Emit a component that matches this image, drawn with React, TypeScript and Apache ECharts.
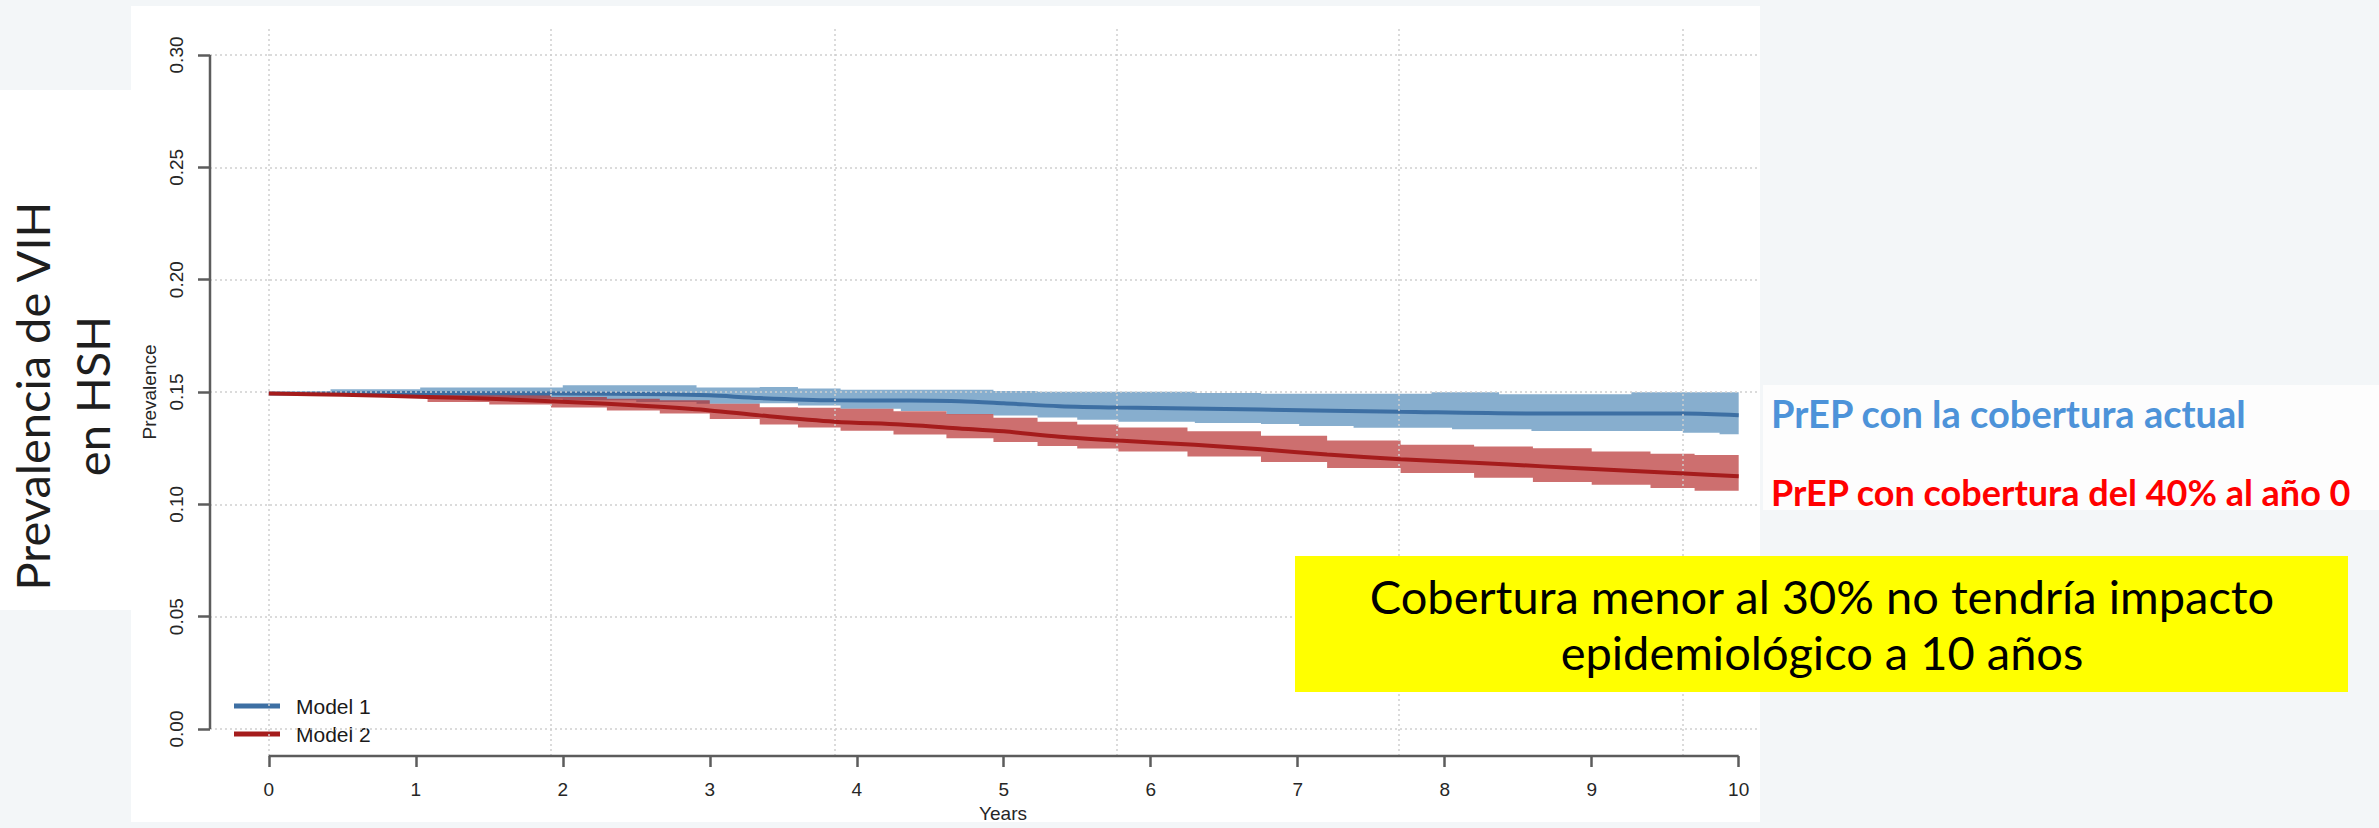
import React, { useEffect, useRef } from "react";
import * as echarts from "echarts";

// ---------------- data ----------------
const xTicks = [0, 1, 2, 3, 4, 5, 6, 7, 8, 9, 10];
const yTicks = [0, 0.05, 0.1, 0.15, 0.2, 0.25, 0.3];
const gridWeeks = [0, 100, 200, 300, 400, 500];
const WEEKS_PER_YEAR = 52;

const seriesNames = ["Model 1", "Model 2"];
const yAxisTitle = "Prevalence";
const xAxisTitle = "Years";
const sideTitle = "Prevalencia de VIH\nen HSH";
const label1 = "PrEP con la cobertura actual";
const label2 = "PrEP con cobertura del 40% al año 0";
const noteText = "Cobertura menor al 30% no tendría impacto\nepidemiológico a 10 años";

// mean prevalence [year, value]
const model1Mean: number[][] = [
  [0, 0.1493], [1, 0.1495], [2, 0.1493], [2.7, 0.149], [3.0, 0.1485], [3.34, 0.1473],
  [3.85, 0.1463], [4.3, 0.1462], [4.7, 0.1459], [5.0, 0.145], [5.38, 0.1437], [5.78, 0.1431],
  [6.75, 0.1422], [7.7, 0.1412], [8.67, 0.1404], [9.63, 0.1404], [10.0, 0.1397],
];
const model2Mean: number[][] = [
  [0, 0.1493], [0.5, 0.1488], [1.08, 0.1478], [1.5, 0.147], [1.92, 0.1459], [2.3, 0.1448],
  [2.66, 0.1434], [3.0, 0.1418], [3.34, 0.1396], [3.85, 0.1368], [4.3, 0.1355], [4.7, 0.1338],
  [5.0, 0.1325], [5.38, 0.1301], [5.78, 0.1284], [6.3, 0.1265], [6.75, 0.1245], [7.2, 0.1222],
  [7.7, 0.1201], [8.2, 0.1185], [8.67, 0.1169], [9.15, 0.1153], [9.63, 0.1137], [10.0, 0.1125],
];
// interval bands [year, low, high] (stepwise)
const model1Band: number[][] = [
  [0, 0.1493, 0.1493], [0.23, 0.149, 0.15], [0.42, 0.1487, 0.1512], [0.75, 0.1482, 0.1512],
  [1.03, 0.1477, 0.152], [1.5, 0.147, 0.152], [2.0, 0.1463, 0.153], [2.5, 0.1455, 0.153],
  [2.91, 0.1448, 0.152], [3.34, 0.145, 0.1522], [3.6, 0.144, 0.1516], [3.89, 0.1426, 0.151],
  [4.3, 0.1415, 0.151], [4.61, 0.1401, 0.151], [4.93, 0.1395, 0.1504], [5.23, 0.1387, 0.1501],
  [5.5, 0.1376, 0.1501], [5.78, 0.1368, 0.1501], [6.3, 0.1362, 0.1496], [6.75, 0.1358, 0.1492],
  [7.01, 0.1349, 0.1492], [7.38, 0.1341, 0.1492], [7.91, 0.1341, 0.1499], [8.05, 0.1334, 0.1499],
  [8.37, 0.1334, 0.149], [8.59, 0.1326, 0.149], [9.27, 0.1326, 0.1499], [9.62, 0.1319, 0.1499],
  [9.87, 0.1312, 0.1499], [10.0, 0.1312, 0.1499],
];
const model2Band: number[][] = [
  [0, 0.1493, 0.1493], [0.3, 0.1488, 0.1496], [0.6, 0.1478, 0.1496], [1.08, 0.1456, 0.1495],
  [1.5, 0.1444, 0.1488], [1.92, 0.1431, 0.1478], [2.3, 0.1418, 0.147], [2.66, 0.1404, 0.1463],
  [3.0, 0.138, 0.1448], [3.34, 0.1355, 0.1432], [3.6, 0.1342, 0.143], [3.89, 0.1328, 0.1426],
  [4.25, 0.1311, 0.1414], [4.61, 0.1294, 0.1402], [4.93, 0.1277, 0.1385], [5.23, 0.126, 0.1368],
  [5.5, 0.1248, 0.1355], [5.78, 0.1235, 0.1342], [6.25, 0.1213, 0.1325], [6.75, 0.1188, 0.1305],
  [7.2, 0.1162, 0.1284], [7.7, 0.114, 0.1265], [8.2, 0.1118, 0.1257], [8.6, 0.11, 0.125],
  [9.0, 0.1087, 0.1235], [9.4, 0.1073, 0.1225], [9.7, 0.106, 0.122], [10.0, 0.1054, 0.1216],
];

// ---------------- styles ----------------
const X_MIN = -0.4;
const X_MAX = 10.145;
const Y_MIN = -0.012;
const Y_MAX = 0.312;
const FONT_R = "'Liberation Sans', Arial, sans-serif";
const FONT_S = "Lato, 'Noto Sans', sans-serif";
const AX = "#5c5c5c";
const TXT = "#262626";
const BG = "#f3f6f8";
const BLUE_LINE = "#3d6fa3";
const RED_LINE = "#a51c1c";
const BLUE_BAND = "rgba(70,130,180,0.65)";
const RED_BAND = "rgba(178,34,34,0.65)";

function bandSeries(name: string, data: number[][], color: string, z: number) {
  return {
    type: "custom",
    name,
    data,
    encode: { x: 0, y: [1, 2] },
    clip: false,
    silent: true,
    z,
    renderItem: (params: any, api: any) => {
      if (params.dataIndexInside !== 0) return null;
      const n = params.dataInsideLength;
      const upper: number[][] = [];
      const lower: number[][] = [];
      for (let j = 0; j < n; j++) {
        const t = api.value(0, j);
        const lo = api.value(1, j);
        const hi = api.value(2, j);
        const tNext = j < n - 1 ? api.value(0, j + 1) : t;
        upper.push(api.coord([t, hi]), api.coord([tNext, hi]));
        lower.push(api.coord([t, lo]), api.coord([tNext, lo]));
      }
      return {
        type: "polygon",
        shape: { points: upper.concat(lower.reverse()) },
        style: { fill: color },
      };
    },
  };
}

export default function App() {
  const ref = useRef<HTMLDivElement>(null);

  useEffect(() => {
    if (!ref.current) return;
    const chart = echarts.init(ref.current, null, { renderer: "svg" });
    const option: any = {
      animation: false,
      grid: { left: 210, top: 28, width: 1550, height: 734 },
      legend: {
        data: seriesNames,
        orient: "vertical",
        left: 229,
        top: 690,
        icon: "rect",
        itemWidth: 46,
        itemHeight: 5,
        itemGap: 6,
        selectedMode: false,
        textStyle: { fontSize: 21, fontFamily: FONT_R, color: "#1a1a1a", lineHeight: 22, padding: [0, 0, 0, 11] },
      },
      xAxis: {
        type: "value",
        min: X_MIN,
        max: X_MAX,
        axisLine: { show: false, onZero: false },
        axisTick: { show: true, customValues: xTicks, length: 11, lineStyle: { color: AX, width: 2.5 } },
        axisLabel: {
          customValues: xTicks,
          margin: 24,
          fontSize: 19,
          color: TXT,
          fontFamily: FONT_R,
          formatter: (v: number) => String(v),
        },
        splitLine: { show: false },
        name: xAxisTitle,
        nameLocation: "middle",
        nameGap: 48,
        nameTextStyle: { fontSize: 19, color: TXT, fontFamily: FONT_R, padding: [0, 0, 0, 36] },
      },
      yAxis: {
        type: "value",
        min: Y_MIN,
        max: Y_MAX,
        axisLine: { show: false, onZero: false },
        axisTick: { show: true, customValues: yTicks, length: 12, lineStyle: { color: AX, width: 2.5 } },
        axisLabel: {
          customValues: yTicks,
          rotate: 90,
          margin: 24,
          fontSize: 19,
          color: TXT,
          fontFamily: FONT_R,
          formatter: (v: number) => v.toFixed(2),
        },
        splitLine: { show: false },
        name: yAxisTitle,
        nameLocation: "middle",
        nameGap: 46,
        nameTextStyle: { fontSize: 19, color: TXT, fontFamily: FONT_R },
      },
      series: [
        bandSeries("band1", model1Band, BLUE_BAND, 2),
        bandSeries("band2", model2Band, RED_BAND, 3),
        {
          type: "line",
          name: seriesNames[0],
          data: model1Mean,
          smooth: 0.3,
          showSymbol: false,
          symbol: "none",
          color: BLUE_LINE,
          lineStyle: { color: BLUE_LINE, width: 4 },
          silent: true,
          z: 4,
        },
        {
          type: "line",
          name: seriesNames[1],
          data: model2Mean,
          smooth: 0.3,
          showSymbol: false,
          symbol: "none",
          color: RED_LINE,
          lineStyle: { color: RED_LINE, width: 4 },
          silent: true,
          z: 5,
        },
        {
          type: "line",
          name: "grid",
          data: [],
          silent: true,
          z: 6,
          markLine: {
            silent: true,
            symbol: "none",
            label: { show: false },
            lineStyle: { color: "#cfcfcf", width: 1.5, type: [2, 3] },
            data: [
              ...yTicks.map((v) => ({ yAxis: v })),
              ...gridWeeks.map((w) => ({ xAxis: w / WEEKS_PER_YEAR })),
            ],
          },
        },
        {
          type: "line",
          name: "xaxisline",
          data: [[xTicks[0], Y_MIN], [xTicks[xTicks.length - 1], Y_MIN]],
          clip: false,
          symbol: "none",
          silent: true,
          lineStyle: { color: AX, width: 2.5 },
          z: 7,
        },
        {
          type: "line",
          name: "yaxisline",
          data: [[X_MIN, yTicks[0]], [X_MIN, yTicks[yTicks.length - 1]]],
          clip: false,
          symbol: "none",
          silent: true,
          lineStyle: { color: AX, width: 2.5 },
          z: 7,
        },
      ],
      graphic: [
        { type: "rect", z: -10, shape: { x: 131, y: 6, width: 1629, height: 816 }, style: { fill: "#ffffff" } },
        { type: "rect", z: -10, shape: { x: 0, y: 90, width: 131, height: 520 }, style: { fill: "#ffffff" } },
        { type: "rect", z: -10, shape: { x: 1763, y: 385, width: 616, height: 125 }, style: { fill: "#fdfdfd" } },
        { type: "rect", z: 100, shape: { x: 131, y: 822, width: 1629, height: 6 }, style: { fill: BG } },
        {
          type: "text",
          z: 100,
          x: 62,
          y: 396,
          rotation: Math.PI / 2,
          style: {
            text: sideTitle,
            fontSize: 47,
            fontFamily: FONT_S,
            fill: "#1e1e1e",
            align: "center",
            verticalAlign: "middle",
            lineHeight: 60,
          },
        },
        {
          type: "text",
          z: 100,
          x: 1771,
          y: 413,
          style: { text: label1, fontSize: 38, fontWeight: "bold", fontFamily: FONT_S, fill: "#4d93d9", align: "left", verticalAlign: "middle" },
        },
        {
          type: "text",
          z: 100,
          x: 1771,
          y: 492,
          style: { text: label2, fontSize: 36, fontWeight: "bold", fontFamily: FONT_S, fill: "#ff0000", align: "left", verticalAlign: "middle" },
        },
        { type: "rect", z: 100, shape: { x: 1295, y: 556, width: 1053, height: 136 }, style: { fill: "#ffff00" } },
        {
          type: "text",
          z: 101,
          x: 1822,
          y: 624,
          style: {
            text: noteText,
            fontSize: 47,
            fontFamily: FONT_S,
            fill: "#000000",
            align: "center",
            verticalAlign: "middle",
            lineHeight: 56,
          },
        },
      ],
    };
    chart.setOption(option);
    return () => chart.dispose();
  }, []);

  return (
    <div
      ref={ref}
      style={{ position: "fixed", left: 0, top: 0, width: 2379, height: 828, background: BG }}
    />
  );
}
